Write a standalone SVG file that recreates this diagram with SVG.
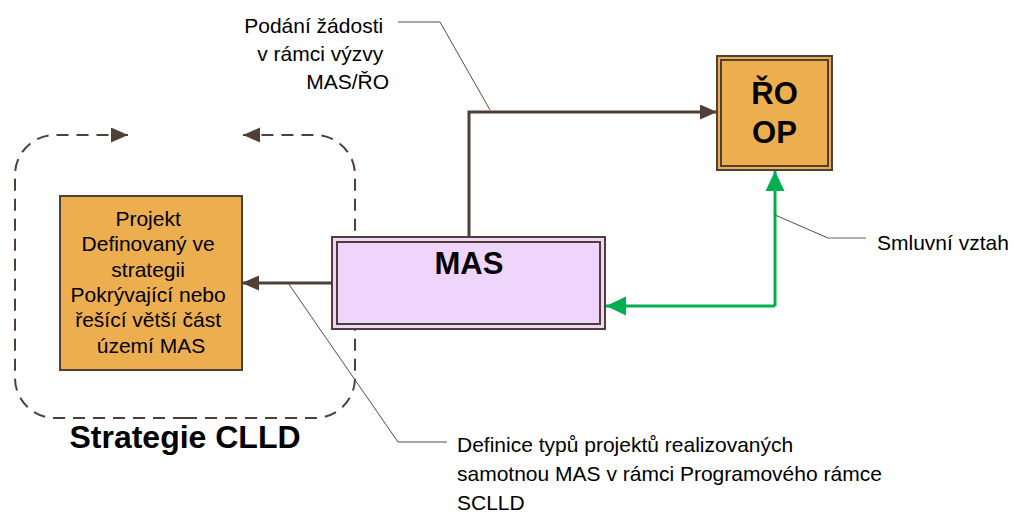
<svg xmlns="http://www.w3.org/2000/svg" width="1013" height="514" viewBox="0 0 1013 514">
<defs>
<style>
.t{font-family:"Liberation Sans",Arial,sans-serif;font-size:21px;fill:#000}
.b{font-family:"Liberation Sans",Arial,sans-serif;font-weight:bold;fill:#000}
.conn{fill:none;stroke:#4f3f37;stroke-width:3}
.green{fill:none;stroke:#00b050;stroke-width:3}
.dash{fill:none;stroke:#4f3f37;stroke-width:2;stroke-dasharray:12 8}
.call{fill:none;stroke:#5a4a42;stroke-width:1}
.callg{fill:none;stroke:#9e9490;stroke-width:1.5}
.orange{fill:#edae4f;stroke:#4f3f37;stroke-width:2}
.lav{fill:#efd5fb;stroke:#4f3f37;stroke-width:2}
</style>
<marker id="ab" markerUnits="userSpaceOnUse" markerWidth="18" markerHeight="16" refX="17" refY="7.5" orient="auto"><path d="M0,0 L17,7.5 L0,15 z" fill="#4f3f37"/></marker>
<marker id="ag" markerUnits="userSpaceOnUse" markerWidth="21" markerHeight="20" refX="20" refY="9.5" orient="auto"><path d="M0,0 L20,9.5 L0,19 z" fill="#00b050"/></marker>
</defs>
<rect width="1013" height="514" fill="#fff"/>
<g id="strategie-clld">
<path class="dash" d="M185,418 H55 A40,40 0 0 1 15,378 V175 A40,40 0 0 1 55,135 H128" marker-end="url(#ab)"/>
<path class="dash" d="M185,418 H315 A40,40 0 0 0 355,378 V175 A40,40 0 0 0 315,135 H243" marker-end="url(#ab)"/>
<text class="b" x="185" y="448" font-size="32" text-anchor="middle">Strategie CLLD</text>
</g>
<g id="connectors">
<path class="conn" d="M469,237 V112 H717" marker-end="url(#ab)"/>
<path class="conn" d="M332,283 H242" marker-end="url(#ab)"/>
<path class="green" d="M775,306 V171" marker-end="url(#ag)"/>
<path class="green" d="M775,306 H606" marker-end="url(#ag)"/>
<path class="call" d="M398,22 H440 L490,110"/>
<path class="call" d="M775,215 L828,238"/>
<path class="callg" d="M828,238 H866"/>
<path class="call" d="M288,283 L398,442 H447"/>
</g>
<g id="projekt">
<rect class="orange" x="60" y="196" width="182" height="174"/>
<text class="t" text-anchor="middle">
<tspan x="151" y="226">Projekt</tspan>
<tspan x="151" y="251.3">Definovaný ve</tspan>
<tspan x="151" y="276.6">strategii</tspan>
<tspan x="151" y="301.9">Pokrývající nebo</tspan>
<tspan x="151" y="327.2">řešící větší část</tspan>
<tspan x="151" y="352.5">území MAS</tspan>
</text>
</g>
<g id="mas">
<rect class="lav" x="332" y="237" width="273" height="92"/>
<rect class="lav" x="337" y="242" width="263" height="82"/>
<text class="b" x="469" y="274" font-size="31" text-anchor="middle">MAS</text>
</g>
<g id="ro-op">
<rect class="orange" x="717" y="56" width="115" height="114"/>
<rect class="orange" x="721" y="60" width="107" height="106"/>
<text class="b" x="774.5" y="104" font-size="31" text-anchor="middle">ŘO</text>
<text class="b" x="774.5" y="143" font-size="31" text-anchor="middle">OP</text>
</g>
<g id="label-podani">
<text class="t" text-anchor="end">
<tspan x="389" y="33">Podání žádosti</tspan>
<tspan x="389" y="61">v rámci výzvy</tspan>
<tspan x="389" y="89">MAS/ŘO</tspan>
</text>
</g>
<g id="label-smluvni">
<text class="t" x="877" y="250">Smluvní vztah</text>
</g>
<g id="label-definice">
<text class="t">
<tspan x="457" y="452">Definice typů projektů realizovaných</tspan>
<tspan x="457" y="481">samotnou MAS v rámci Programového rámce</tspan>
<tspan x="457" y="510">SCLLD</tspan>
</text>
</g>
</svg>
